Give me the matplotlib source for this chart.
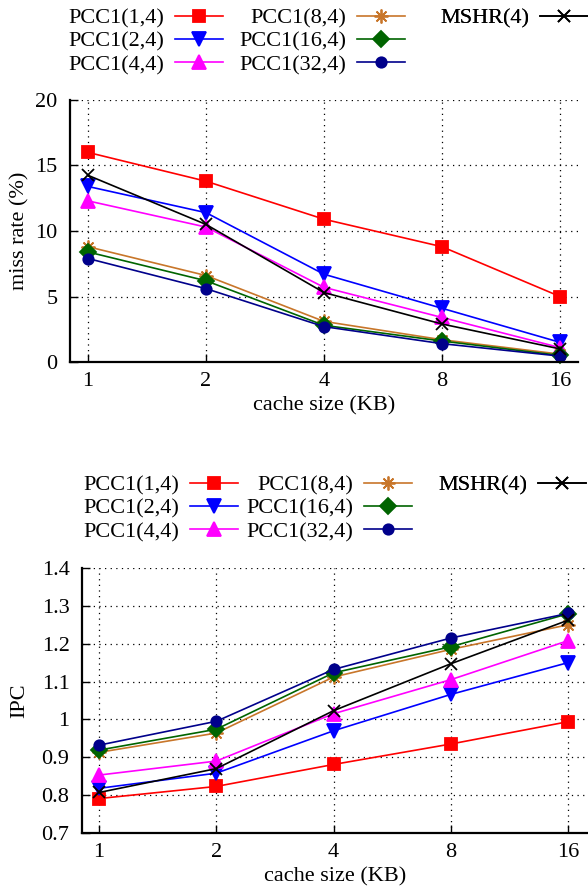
import numpy as np
import matplotlib
matplotlib.use('Agg')
import matplotlib.pyplot as plt

plt.rcParams['font.family'] = ['Liberation Serif', 'DejaVu Serif']
plt.rcParams['font.size'] = 16

cache_kb = [1, 2, 4, 8, 16]
labels = ['PCC1(1,4)', 'PCC1(2,4)', 'PCC1(4,4)', 'PCC1(8,4)',
          'PCC1(16,4)', 'PCC1(32,4)', 'MSHR(4)']

# miss rate (%)
miss_pcc1_1 = [16.0, 13.8, 10.9, 8.8, 5.0]
miss_pcc1_2 = [13.4, 11.4, 6.7, 4.1, 1.5]
miss_pcc1_4 = [12.3, 10.3, 5.7, 3.4, 1.1]
miss_pcc1_8 = [8.8, 6.6, 3.1, 1.7, 0.6]
miss_pcc1_16 = [8.4, 6.2, 2.8, 1.6, 0.5]
miss_pcc1_32 = [7.9, 5.6, 2.7, 1.4, 0.45]
miss_mshr = [14.25, 10.5, 5.3, 2.9, 1.0]

# IPC
ipc_pcc1_1 = [0.791, 0.823, 0.881, 0.935, 0.994]
ipc_pcc1_2 = [0.818, 0.858, 0.970, 1.066, 1.150]
ipc_pcc1_4 = [0.853, 0.890, 1.015, 1.105, 1.208]
ipc_pcc1_8 = [0.913, 0.964, 1.112, 1.185, 1.250]
ipc_pcc1_16 = [0.919, 0.974, 1.123, 1.192, 1.279]
ipc_pcc1_32 = [0.932, 0.995, 1.132, 1.215, 1.280]
ipc_mshr = [0.807, 0.870, 1.023, 1.147, 1.262]

miss_ticks = [0, 5, 10, 15, 20]
ipc_ticks = [0.7, 0.8, 0.9, 1.0, 1.1, 1.2, 1.3, 1.4]

colors = ['#ff0000', '#0000ff', '#ff00ff', '#c8762a', '#006400', '#00008b', '#000000']
markers = ['s', 'v', '^', (8, 2, 0), 'D', 'o', 'x']
msizes = [8, 9.5, 9.5, 10, 8, 7.5, 9]

W, H = 588, 892
fig = plt.figure(figsize=(W / 100, H / 100), dpi=100)


def style_axes(ax, x0, x1):
    ax.set_xscale('log', base=2)
    ax.set_xlim(2 ** x0, 2 ** x1)
    ax.set_xticks(cache_kb)
    ax.set_xticklabels([str(c) for c in cache_kb])
    ax.minorticks_off()
    for s in ['top', 'right']:
        ax.spines[s].set_visible(False)
    for s in ['left', 'bottom']:
        ax.spines[s].set_linewidth(1.6)
    ax.tick_params(direction='in', length=6, width=1.0, pad=7)
    ax.tick_params(axis='y', pad=9)
    ax.grid(True, color='black', linestyle=(0, (1, 3.5)), linewidth=0.9)
    ax.set_axisbelow(True)
    ax.set_xlabel('cache size (KB)', labelpad=4)


def add_legends(ax, handles, cols, top_px):
    groups = [handles[0:3], handles[3:6], handles[6:7]]
    for grp, xr in zip(groups, cols):
        leg = ax.legend(handles=grp, labels=[h.get_label() for h in grp],
                        loc='upper right', bbox_to_anchor=(xr / W, 1 - top_px / H),
                        bbox_transform=fig.transFigure, frameon=False,
                        markerfirst=False, borderpad=0, borderaxespad=0,
                        handlelength=2.15, handletextpad=0.5, labelspacing=0.12,
                        fontsize=16)
        ax.add_artist(leg)


# top: miss rate
ax1 = fig.add_axes([70 / W, 1 - 362 / H, 508 / W, 262 / H])
miss = [miss_pcc1_1, miss_pcc1_2, miss_pcc1_4, miss_pcc1_8,
        miss_pcc1_16, miss_pcc1_32, miss_mshr]
h1 = []
for y, c, m, ms, lab in zip(miss, colors, markers, msizes, labels):
    ln, = ax1.plot(cache_kb, y, color=c, marker=m, markersize=ms, lw=1.2,
                   mew=1.3, label=lab, clip_on=False)
    h1.append(ln)
style_axes(ax1, -18 / 118, 4 + 18 / 118)
ax1.set_ylim(0, 20)
ax1.set_yticks(miss_ticks)
ax1.set_ylabel('miss rate (%)')
ax1.yaxis.set_label_coords(-41 / 508, 0.5)
add_legends(ax1, h1, [223, 405, 588], 8)

# bottom: IPC
ax2 = fig.add_axes([82 / W, 1 - 833 / H, 506 / W, 265 / H])
ipc = [ipc_pcc1_1, ipc_pcc1_2, ipc_pcc1_4, ipc_pcc1_8,
       ipc_pcc1_16, ipc_pcc1_32, ipc_mshr]
h2 = []
for y, c, m, ms, lab in zip(ipc, colors, markers, msizes, labels):
    ln, = ax2.plot(cache_kb, y, color=c, marker=m, markersize=ms, lw=1.2,
                   mew=1.3, label=lab, clip_on=False)
    h2.append(ln)
style_axes(ax2, -17 / 117.25, 4 + 20 / 117.25)
ax2.set_ylim(0.7, 1.4)
ax2.set_yticks(ipc_ticks)
ax2.set_yticklabels(['%g' % t for t in ipc_ticks])
ax2.set_ylabel('IPC')
ax2.yaxis.set_label_coords(-53 / 506, 0.5)
add_legends(ax2, h2, [238, 412, 586], 475)

fig.savefig('out.png', dpi=100)
